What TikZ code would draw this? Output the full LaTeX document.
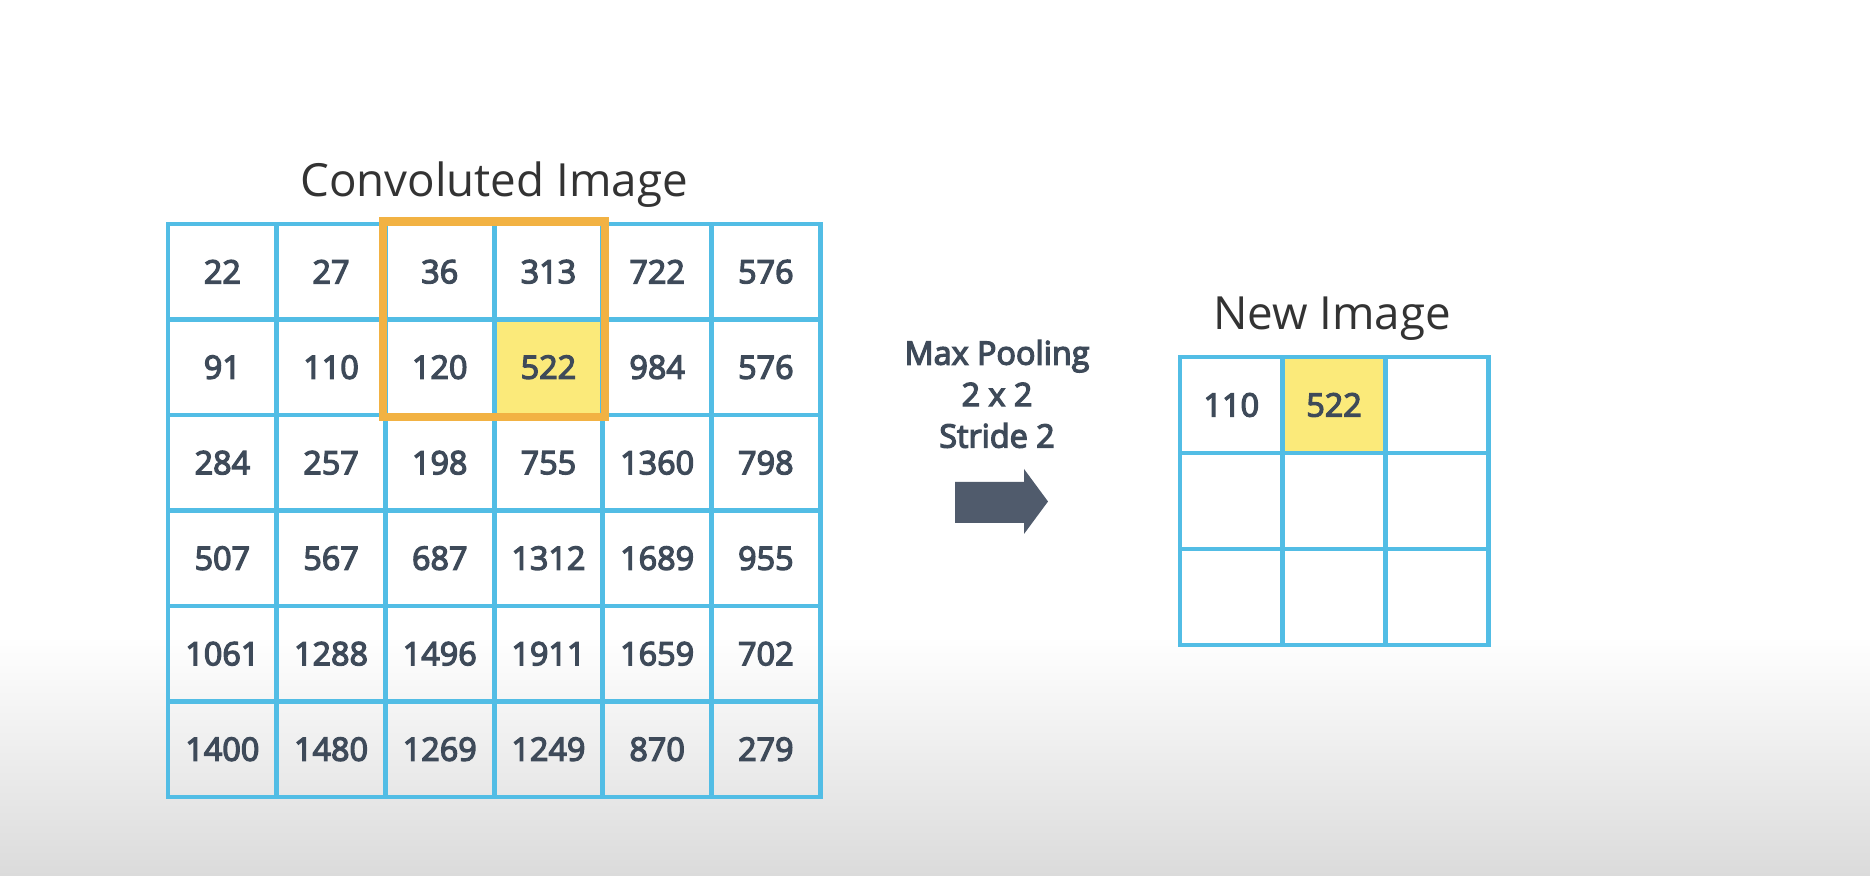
\documentclass[tikz,border=0pt]{standalone}
\usepackage{fontspec}
\setmainfont{Open Sans}
\newfontfamily\semib[FakeBold=4]{Open Sans}
\usepackage{tikz}
\usetikzlibrary{positioning}

\definecolor{gridblue}{RGB}{82,189,229}
\definecolor{poolorange}{RGB}{242,178,67}
\definecolor{maxyellow}{RGB}{251,234,122}
\definecolor{numgray}{RGB}{62,74,89}
\definecolor{arrowgray}{RGB}{80,91,108}
\definecolor{titlegray}{RGB}{51,51,51}
\definecolor{floorgray}{RGB}{219,219,219}

\begin{document}
\begin{tikzpicture}[
    cell/.style={draw=gridblue, line width=1.4pt, inner sep=0pt,
      minimum width=1.087cm, minimum height=0.955cm,
      text=numgray, font=\fontsize{9.2}{11}\semib},
    newcell/.style={cell, minimum width=1.027cm, minimum height=0.96cm},
    title/.style={text=titlegray, font=\fontsize{13}{15}\selectfont, anchor=base}
  ]

    % background
    \fill[white] (0,0) rectangle (18.70,8.76);
    \shade[top color=white, bottom color=floorgray] (0,0) rectangle (18.70,2.40);
    \useasboundingbox (0,0) rectangle (18.70,8.76);

    \node[title] (convtitle) at (4.94,6.79) {Convoluted Image};

    % convoluted image
    \foreach \row [count=\i] in {{22,27,36,313,722,576},{91,110,120,522,984,576},
        {284,257,198,755,1360,798},{507,567,687,1312,1689,955},
        {1061,1288,1496,1911,1659,702},{1400,1480,1269,1249,870,279}} {
      \foreach \val [count=\j] in \row {
        \def\cellfill{none}
        \ifnum\i=2 \ifnum\j=4 \def\cellfill{maxyellow}\fi\fi
        \node[cell, fill=\cellfill] (c-\i-\j) at ({1.68+(\j-0.5)*1.087},{6.52-(\i-0.5)*0.955}) {\val};
      }
    }

    % pooling window
    \draw[poolorange, line width=2.3pt] (c-1-3.north west) rectangle (c-2-4.south east);

    \node[text=numgray, align=center, font=\fontsize{9.2}{11.8}\semib] (pool) at (9.97,4.82) {Max Pooling\\2 x 2\\Stride 2};

    \fill[arrowgray] (9.55,3.53) -- (9.55,3.94) -- (10.24,3.94) -- (10.24,4.07)
      -- (10.48,3.745) -- (10.24,3.42) -- (10.24,3.53) -- cycle;

    % new image
    \node[title] (newtitle) at (13.32,5.46) {New Image};

    \foreach \i in {1,2,3} {
      \foreach \j in {1,2,3} {
        \node[newcell] (n-\i-\j) at ({11.80+(\j-0.5)*1.027},{5.19-(\i-0.5)*0.96}) {};
      }
    }
    \node[newcell] at (n-1-1) {110};
    \node[newcell, fill=maxyellow] at (n-1-2) {522};

\end{tikzpicture}
\end{document}
